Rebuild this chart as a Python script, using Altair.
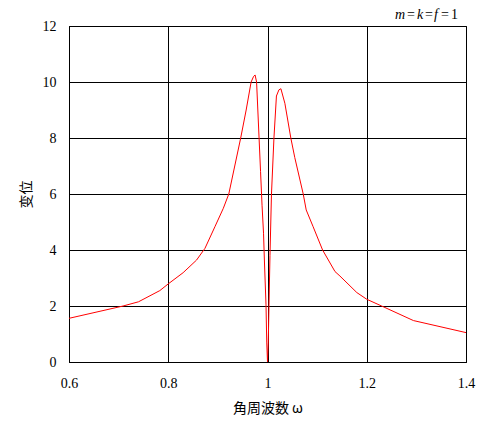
import altair as alt
import pandas as pd

# angular frequency (omega) and displacement
omega = [0.6, 0.709, 0.74, 0.783, 0.80, 0.83, 0.857, 0.874, 0.894, 0.911,
         0.922, 0.934, 0.946, 0.957, 0.967, 0.972, 0.975, 0.978, 0.983, 0.986,
         0.989, 0.992, 0.994, 0.997, 0.9985, 1.0, 1.0015, 1.003, 1.005, 1.008,
         1.013, 1.018, 1.023, 1.027, 1.035, 1.047, 1.055, 1.072, 1.078,
         1.092, 1.111, 1.136, 1.146, 1.180, 1.200, 1.230, 1.294, 1.4]
displacement = [1.56, 2.0, 2.15, 2.55, 2.79, 3.19, 3.64, 4.06, 4.83, 5.49,
                6.0, 7.0, 8.0, 9.0, 10.0, 10.2, 10.25, 10.0, 8.0, 6.8,
                5.6, 4.6, 3.5, 2.04, 0.68, 0.0, 0.68, 2.04, 3.8, 6.0,
                8.0, 9.5, 9.72, 9.76, 9.24, 8.0, 7.3, 6.0, 5.43,
                4.83, 4.0, 3.23, 3.07, 2.48, 2.24, 2.0, 1.48, 1.05]

x_ticks = [0.6, 0.8, 1.0, 1.2, 1.4]
y_ticks = [0, 2, 4, 6, 8, 10, 12]
x_title = "角周波数 ω"
y_title = "变位"
title_parts = ["m", "=", "k", "=", "f", "=", "1"]

df = pd.DataFrame({"omega": omega, "disp": displacement,
                   "idx": list(range(len(omega)))})

SERIF = "Liberation Serif"
CJK = "Noto Sans CJK JP"

line = alt.Chart(df).mark_line(color="#ff0000", strokeWidth=1, clip=True).encode(
    x=alt.X("omega:Q",
            scale=alt.Scale(domain=[0.6, 1.4], nice=False, zero=False),
            axis=alt.Axis(values=x_ticks, title=x_title, grid=True,
                          ticks=False, labelPadding=14, titlePadding=11,
                          labelFlush=False, labelOverlap=False, labelBound=False,
                          labelExpr="datum.value == 1 ? '1' : format(datum.value, '.1f')",
                          titleFont=CJK, titleFontSize=14,
                          titleFontWeight="normal")),
    y=alt.Y("disp:Q",
            scale=alt.Scale(domain=[0, 12], nice=False),
            axis=alt.Axis(values=y_ticks, title=y_title, grid=True,
                          ticks=False, labelPadding=13, titlePadding=9,
                          labelFlush=False, labelOverlap=False, labelBound=False,
                          titleFont=CJK, titleFontSize=14,
                          titleFontWeight="normal")),
    order="idx:Q",
)

# annotation "m = k = f = 1" (letters italic)
lefts = [326, 338, 348, 356, 365, 372, 382]
texts = []
for part, xl in zip(title_parts, lefts):
    italic = part.isalpha()
    texts.append(
        alt.Chart(pd.DataFrame({"t": [part]})).mark_text(
            align="left", baseline="alphabetic", fontSize=14, font=SERIF,
            fontStyle="italic" if italic else "normal", color="black"
        ).encode(x=alt.value(xl), y=alt.value(-7), text="t:N")
    )

chart = alt.layer(line, *texts).properties(
    width=397, height=336,
    autosize=alt.AutoSizeParams(type="none"),
    padding={"left": 61, "top": 18, "right": 17, "bottom": 60},
).configure_view(
    stroke="black", strokeWidth=1
).configure_axis(
    gridColor="black", gridOpacity=1, gridWidth=1,
    domainColor="black", domainWidth=1,
    labelColor="black", titleColor="black",
    labelFont=SERIF, labelFontSize=14,
)

chart.save("out.html", embed_options={"renderer": "svg", "actions": False})
